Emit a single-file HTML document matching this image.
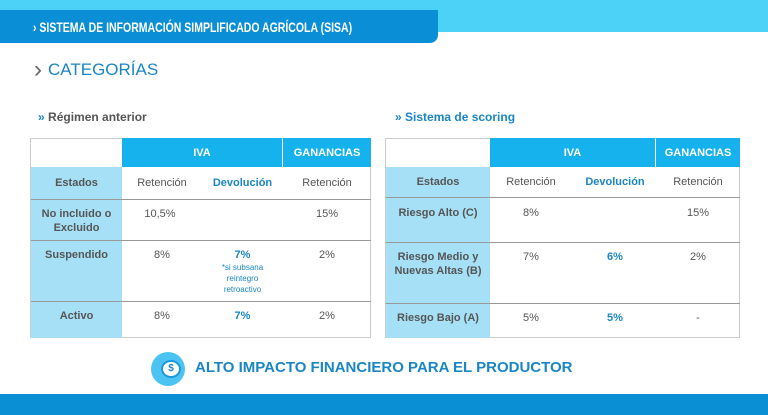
<!DOCTYPE html>
<html><head><meta charset="utf-8"><style>
*{margin:0;padding:0;box-sizing:border-box}
body{width:768px;height:415px;background:#fff;position:relative;overflow:hidden;font-family:"Liberation Sans",sans-serif}
.a{position:absolute}
.t{position:absolute;font-size:11px;font-weight:bold;color:#555;text-align:center;line-height:14px}
.b{color:#1a86c4}
.w{color:#fff}
</style></head><body>
<div class="a" style="left:0;top:0;width:768px;height:32px;background:#4dd2f7"></div>
<div class="a" style="left:0;top:10px;width:438px;height:33px;background:#0a8ed6;border-bottom-right-radius:8px"></div>
<div class="a" style="left:33px;top:19px;color:#fff;font-size:14px;font-weight:bold;white-space:nowrap;transform:scaleX(0.75);transform-origin:left">› SISTEMA DE INFORMACIÓN SIMPLIFICADO AGRÍCOLA (SISA)</div>
<div class="a" style="left:34px;top:56px;color:#666;font-size:24px;line-height:28px">›</div>
<div class="a" style="left:48px;top:60px;color:#1a86c4;font-size:17px;">CATEGORÍAS</div>
<div class="a" style="left:38px;top:110px;color:#555;font-size:12px;font-weight:bold"><span class="b">»</span> Régimen anterior</div>
<div class="a" style="left:395px;top:110px;color:#1a86c4;font-size:12px;font-weight:bold">» Sistema de scoring</div>

<!-- left table -->
<div class="a" style="left:30px;top:138px;width:341px;height:200px;border:1px solid #ccc;background:#fff"></div>
<div class="a" style="left:31px;top:167px;width:91px;height:171px;background:#a6e0f6"></div>
<div class="a" style="left:122px;top:138px;width:160px;height:29px;background:#16b2ee"></div>
<div class="a" style="left:283px;top:138px;width:88px;height:29px;background:#16b2ee"></div>
<div class="a" style="left:31px;top:199px;width:340px;height:1px;background:#999"></div>
<div class="a" style="left:31px;top:240px;width:340px;height:1px;background:#999"></div>
<div class="a" style="left:31px;top:301px;width:340px;height:1px;background:#999"></div>
<div class="t w" style="left:122px;top:146px;width:160px">IVA</div>
<div class="t w" style="left:283px;top:146px;width:88px">GANANCIAS</div>
<div class="t" style="left:31px;top:176px;width:91px">Estados</div>
<div class="t" style="left:122px;top:176px;width:80px;font-weight:normal">Retención</div>
<div class="t b" style="left:200px;top:176px;width:85px">Devolución</div>
<div class="t" style="left:283px;top:176px;width:88px;font-weight:normal">Retención</div>
<div class="t" style="left:31px;top:207px;width:91px">No incluido o<br>Excluido</div>
<div class="t" style="left:122px;top:207px;width:76px;font-weight:normal">10,5%</div>
<div class="t" style="left:283px;top:207px;width:88px;font-weight:normal">15%</div>
<div class="t" style="left:31px;top:248px;width:91px">Suspendido</div>
<div class="t" style="left:122px;top:248px;width:80px;font-weight:normal">8%</div>
<div class="t b" style="left:200px;top:248px;width:85px">7%</div>
<div class="t b" style="left:200px;top:262px;width:85px;font-size:8px;font-weight:normal;line-height:11px">*si subsana<br>reintegro<br>retroactivo</div>
<div class="t" style="left:283px;top:248px;width:88px;font-weight:normal">2%</div>
<div class="t" style="left:31px;top:309px;width:91px">Activo</div>
<div class="t" style="left:122px;top:309px;width:80px;font-weight:normal">8%</div>
<div class="t b" style="left:200px;top:309px;width:85px">7%</div>
<div class="t" style="left:283px;top:309px;width:88px;font-weight:normal">2%</div>

<!-- right table -->
<div class="a" style="left:385px;top:138px;width:355px;height:200px;border:1px solid #ccc;background:#fff"></div>
<div class="a" style="left:386px;top:167px;width:104px;height:171px;background:#a6e0f6"></div>
<div class="a" style="left:490px;top:138px;width:165px;height:29px;background:#16b2ee"></div>
<div class="a" style="left:656px;top:138px;width:84px;height:29px;background:#16b2ee"></div>
<div class="a" style="left:386px;top:197px;width:354px;height:1px;background:#999"></div>
<div class="a" style="left:386px;top:242px;width:354px;height:1px;background:#999"></div>
<div class="a" style="left:386px;top:303px;width:354px;height:1px;background:#999"></div>
<div class="t w" style="left:490px;top:146px;width:165px">IVA</div>
<div class="t w" style="left:656px;top:146px;width:84px">GANANCIAS</div>
<div class="t" style="left:386px;top:175px;width:104px">Estados</div>
<div class="t" style="left:490px;top:175px;width:82px;font-weight:normal">Retención</div>
<div class="t b" style="left:570px;top:175px;width:90px">Devolución</div>
<div class="t" style="left:656px;top:175px;width:84px;font-weight:normal">Retención</div>
<div class="t" style="left:386px;top:206px;width:104px">Riesgo Alto (C)</div>
<div class="t" style="left:490px;top:206px;width:82px;font-weight:normal">8%</div>
<div class="t" style="left:656px;top:206px;width:84px;font-weight:normal">15%</div>
<div class="t" style="left:386px;top:250px;width:104px">Riesgo Medio y<br>Nuevas Altas (B)</div>
<div class="t" style="left:490px;top:250px;width:82px;font-weight:normal">7%</div>
<div class="t b" style="left:570px;top:250px;width:90px">6%</div>
<div class="t" style="left:656px;top:250px;width:84px;font-weight:normal">2%</div>
<div class="t" style="left:386px;top:311px;width:104px">Riesgo Bajo (A)</div>
<div class="t" style="left:490px;top:311px;width:82px;font-weight:normal">5%</div>
<div class="t b" style="left:570px;top:311px;width:90px">5%</div>
<div class="t" style="left:656px;top:311px;width:84px;font-weight:normal">-</div>

<!-- bottom -->
<div class="a" style="left:151px;top:352px;width:34px;height:34px;border-radius:50%;background:#4cc4f2"></div>
<div class="a" style="left:161px;top:360px;width:20px;height:18px;border-radius:50%;background:#fff;border:2px solid #1a9ad8;color:#1a86c4;font-size:10px;font-weight:bold;text-align:center;line-height:14px">$</div>
<div class="a" style="left:195px;top:359px;color:#1a86c4;font-size:15px;font-weight:bold;white-space:nowrap">ALTO IMPACTO FINANCIERO PARA EL PRODUCTOR</div>
<div class="a" style="left:0;top:394px;width:768px;height:21px;background:#0a8fd4"></div>
</body></html>
